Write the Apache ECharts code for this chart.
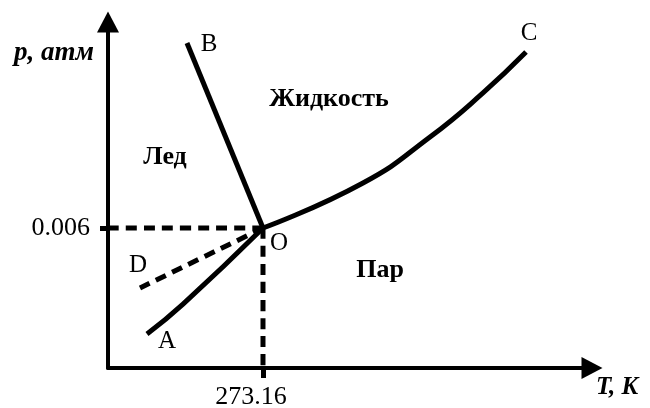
<!DOCTYPE html>
<html>
<head>
<meta charset="utf-8">
<script src="https://cdn.jsdelivr.net/npm/echarts@6/dist/echarts.min.js"></script>
<style>
  html, body { margin: 0; padding: 0; background: #fff; }
  #chart { width: 650px; height: 408px; }
</style>
</head>
<body>
<div id="chart"></div>
<script>
// тройная точка O: [T, p]
const triplePoint = [273.16, 0.006]
// кривые равновесия (от точки O наружу)
const curveOB = [[273.16, 0.006], [139.2, 0.01393]]
const curveOC = [[273.16, 0.006], [449.4, 0.00793], [567.5, 0.0099], [660.9, 0.01179], [736.7, 0.01354]]
const curveOA = [[273.16, 0.006], [132.2, 0.00274], [68.7, 0.00146]]
const curveOD = [[273.16, 0.006], [56.4, 0.00343]]
// подписи на осях
const tickT = [273.16]
const tickP = [0.006]

const xMax = 853
const yMax = 0.01483

let chart = echarts.init(document.getElementById('chart'))

function curve(name, data, dashed) {
  return {
    name: name,
    type: 'line',
    data: data,
    symbol: 'none',
    smooth: 0.5,
    silent: true,
    animation: false,
    lineStyle: {
      color: '#000',
      width: 5,
      type: dashed ? [11, 7] : 'solid',
      cap: 'butt',
    },
  }
}

const serif = '"Liberation Serif", "Times New Roman", serif'

function label(text, x, y, size, weight, style) {
  return {
    type: 'text',
    x: x,
    y: y,
    silent: true,
    style: {
      text: text,
      fill: '#000',
      fontFamily: serif,
      fontSize: size,
      fontWeight: weight || 'normal',
      fontStyle: style || 'normal',
      align: 'center',
      verticalAlign: 'middle',
    },
  }
}

let option = {
  animation: false,
  backgroundColor: '#fff',
  grid: {
    left: 108,
    right: 58,
    top: 22,
    bottom: 40,
    outerBoundsMode: 'none',
  },
  xAxis: {
    type: 'value',
    min: 0,
    max: xMax,
    splitLine: { show: false },
    axisLine: {
      show: true,
      onZero: false,
      symbol: ['none', 'triangle'],
      symbolSize: [22, 21],
      lineStyle: { color: '#000', width: 4 },
    },
    axisTick: {
      show: true,
      customValues: tickT,
      length: 10,
      lineStyle: { color: '#000', width: 5 },
    },
    axisLabel: {
      customValues: tickT,
      formatter: (v) => String(v),
      color: '#000',
      fontFamily: serif,
      fontSize: 26,
      margin: 16,
      padding: [0, 24, 0, 0],
    },
  },
  yAxis: {
    type: 'value',
    min: 0,
    max: yMax,
    splitLine: { show: false },
    axisLine: {
      show: true,
      onZero: false,
      symbol: ['none', 'triangle'],
      symbolSize: [22, 21],
      lineStyle: { color: '#000', width: 4 },
    },
    axisTick: {
      show: true,
      customValues: tickP,
      length: 8,
      lineStyle: { color: '#000', width: 5 },
    },
    axisLabel: {
      customValues: tickP,
      formatter: (v) => String(v),
      color: '#000',
      fontFamily: serif,
      fontSize: 26,
      margin: 18,
    },
  },
  series: [
    // пунктир от точки O к осям
    curve('guideP', [[0, triplePoint[1]], triplePoint], true),
    curve('guideT', [triplePoint, [triplePoint[0], 0]], true),
    curve('OB', curveOB),
    curve('OC', curveOC),
    curve('OA', curveOA),
    curve('OD', curveOD, true),
  ],
  graphic: [
    label('p, атм', 54, 53, 27, 'bold', 'italic'),
    label('T, K', 617, 388, 25, 'bold', 'italic'),
    label('Лед', 165, 157, 26, 'bold'),
    label('Жидкость', 329, 99, 26, 'bold'),
    label('Пар', 380, 270, 26, 'bold'),
    label('B', 209, 44, 25),
    label('C', 529, 33, 25),
    label('O', 279, 243, 25),
    label('A', 167, 341, 25),
    label('D', 138, 265, 25),
  ],
}

chart.setOption(option)
</script>
</body>
</html>
